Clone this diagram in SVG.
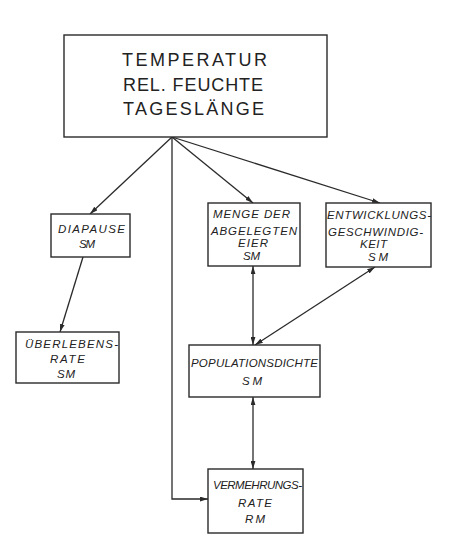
<svg xmlns="http://www.w3.org/2000/svg" width="449" height="550" viewBox="0 0 449 550">
<defs>
<marker id="ah" viewBox="0 0 10 6" refX="10" refY="3" markerWidth="8" markerHeight="5" markerUnits="userSpaceOnUse" orient="auto-start-reverse">
<path d="M0,0 L10,3 L0,6 z" fill="#2a2a2a"/>
</marker>
<style>
.box{fill:#fff;stroke:#2a2a2a;stroke-width:1.4}
.t{font-family:"Liberation Sans",Arial,sans-serif;font-size:18px;fill:#222}
.i{font-family:"Liberation Sans",Arial,sans-serif;font-size:11.5px;font-style:italic;fill:#222}
.c{fill:none;stroke:#2a2a2a;stroke-width:1.3}
</style>
</defs>
<rect width="449" height="550" fill="#fff"/>
<g id="connectors">
<line class="c" x1="172" y1="137" x2="90" y2="214" marker-end="url(#ah)"/>
<line class="c" x1="172" y1="137" x2="253" y2="203" marker-end="url(#ah)"/>
<line class="c" x1="172" y1="137" x2="380" y2="203" marker-end="url(#ah)"/>
<polyline class="c" points="172,137 172,499 208,499" marker-end="url(#ah)"/>
<line class="c" x1="83" y1="257" x2="60" y2="332" marker-end="url(#ah)"/>
<line class="c" x1="253" y1="266" x2="253" y2="345" marker-start="url(#ah)" marker-end="url(#ah)"/>
<line class="c" x1="255" y1="345" x2="375" y2="267" marker-start="url(#ah)" marker-end="url(#ah)"/>
<line class="c" x1="253" y1="397" x2="253" y2="469" marker-start="url(#ah)" marker-end="url(#ah)"/>
</g>
<g id="klima">
<rect class="box" x="64" y="35" width="263" height="102"/>
<text class="t" x="122" y="66" textLength="145" lengthAdjust="spacing">TEMPERATUR</text>
<text class="t" x="123" y="91" textLength="140" lengthAdjust="spacing">REL. FEUCHTE</text>
<text class="t" x="123" y="115" textLength="141" lengthAdjust="spacing">TAGESLÄNGE</text>
</g>
<g id="diapause">
<rect class="box" x="51" y="214" width="79" height="43"/>
<text class="i" x="58" y="233" textLength="67" lengthAdjust="spacing">DIAPAUSE</text>
<text class="i" x="79" y="248" textLength="16" lengthAdjust="spacing">SM</text>
</g>
<g id="ueberlebensrate">
<rect class="box" x="16" y="332" width="103" height="51"/>
<text class="i" x="25" y="348" textLength="93" lengthAdjust="spacing">ÜBERLEBENS-</text>
<text class="i" x="50" y="363" textLength="35" lengthAdjust="spacing">RATE</text>
<text class="i" x="57" y="378" textLength="18" lengthAdjust="spacing">SM</text>
</g>
<g id="menge">
<rect class="box" x="208" y="203" width="92" height="63"/>
<text class="i" x="213" y="218" textLength="77" lengthAdjust="spacing">MENGE DER</text>
<text class="i" x="211" y="235" textLength="86" lengthAdjust="spacing">ABGELEGTEN</text>
<text class="i" x="238" y="247" textLength="30" lengthAdjust="spacing">EIER</text>
<text class="i" x="243" y="260" textLength="17" lengthAdjust="spacing">SM</text>
</g>
<g id="entwicklung">
<rect class="box" x="326" y="203" width="105" height="64"/>
<text class="i" x="327" y="219" textLength="104" lengthAdjust="spacing">ENTWICKLUNGS-</text>
<text class="i" x="328" y="236" textLength="95" lengthAdjust="spacing">GESCHWINDIG-</text>
<text class="i" x="360" y="248" textLength="27" lengthAdjust="spacing">KEIT</text>
<text class="i" x="368" y="261" textLength="20" lengthAdjust="spacing">SM</text>
</g>
<g id="populationsdichte">
<rect class="box" x="189" y="345" width="131" height="52"/>
<text class="i" x="191" y="367" textLength="127" lengthAdjust="spacing">POPULATIONSDICHTE</text>
<text class="i" x="242" y="385" textLength="20" lengthAdjust="spacing">SM</text>
</g>
<g id="vermehrungsrate">
<rect class="box" x="208" y="469" width="95" height="64"/>
<text class="i" x="213" y="489" textLength="89" lengthAdjust="spacing">VERMEHRUNGS-</text>
<text class="i" x="238" y="507" textLength="34" lengthAdjust="spacing">RATE</text>
<text class="i" x="245" y="523" textLength="20" lengthAdjust="spacing">RM</text>
</g>
</svg>
